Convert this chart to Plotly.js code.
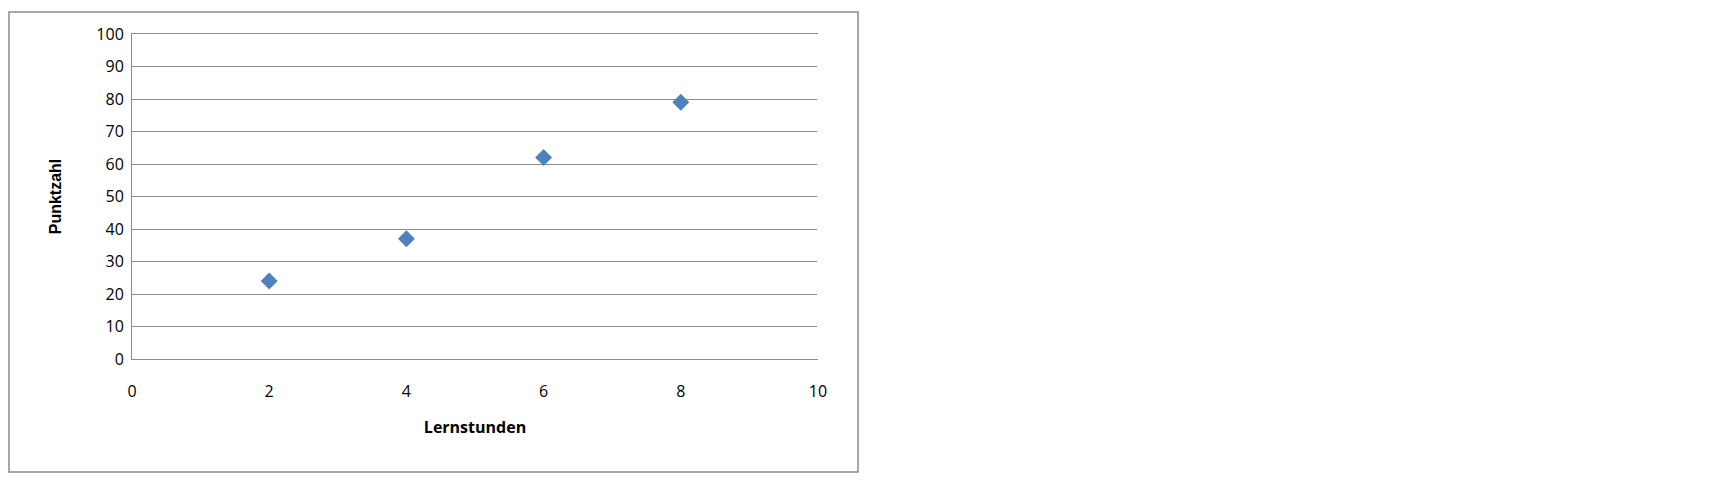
<!DOCTYPE html>
<html><head><meta charset="utf-8">
<script src="https://cdn.plot.ly/plotly-3.0.1.min.js"></script>
<style>body{margin:0;background:#fff}</style></head>
<body><div id="chart" style="width:1728px;height:484px"></div>
<script>
const lernstunden = [2, 4, 6, 8];
const punktzahl = [24, 37, 62, 79];
const xTicks = [0, 2, 4, 6, 8, 10];
const yTicks = [0, 10, 20, 30, 40, 50, 60, 70, 80, 90, 100];

const L = 132, R = 818, T = 34, B = 359;
const px = v => (v - L) / (R - L);
const py = v => (B - v) / (B - T);
const tickFont = {family: "'Liberation Sans Narrow', 'Open Sans', sans-serif", size: 16, color: '#000'};

Plotly.newPlot('chart', [{
  x: lernstunden, y: punktzahl, type: 'scatter', mode: 'markers',
  marker: {symbol: 'diamond', size: 13, color: '#4f81bd', line: {width: 0}},
  showlegend: false, hoverinfo: 'x+y'
}], {
  width: 1728, height: 484,
  margin: {l: L, r: 1728 - R, t: T, b: 484 - B},
  paper_bgcolor: '#fff', plot_bgcolor: '#fff',
  xaxis: {range: [0, 10], tickvals: xTicks, ticktext: xTicks.map(String), showgrid: false, zeroline: false,
    showline: true, mirror: true, linecolor: '#8c8c8c', ticks: '', tickfont: tickFont, ticklabelstandoff: 18,
    title: {text: '<b>Lernstunden</b>', font: {family: "'Liberation Sans Narrow', 'Open Sans', sans-serif", size: 16, color: '#000'}, standoff: 20}},
  yaxis: {range: [0, 100], tickvals: yTicks, ticktext: yTicks.map(String), showgrid: true, gridcolor: '#8c8c8c', gridwidth: 1,
    zeroline: false, showline: true, linecolor: '#8c8c8c', ticks: '', ticklabelstandoff: 4,
    tickfont: tickFont,
    title: {text: '<b>Punktzahl</b>', font: {family: "'Liberation Sans', Arial, sans-serif", size: 16, color: '#000'}, standoff: 30}},
  shapes: [
    {type: 'rect', xref: 'paper', yref: 'paper', x0: px(9), x1: px(858), y0: py(472), y1: py(12),
     line: {color: '#8c8c8c', width: 1.5}, layer: 'below'},
    {type: 'line', xref: 'paper', yref: 'paper', x0: 1, x1: 1, y0: 0, y1: 1, line: {color: '#fff', width: 2}}
  ]
}, {staticPlot: true});
</script></body></html>
